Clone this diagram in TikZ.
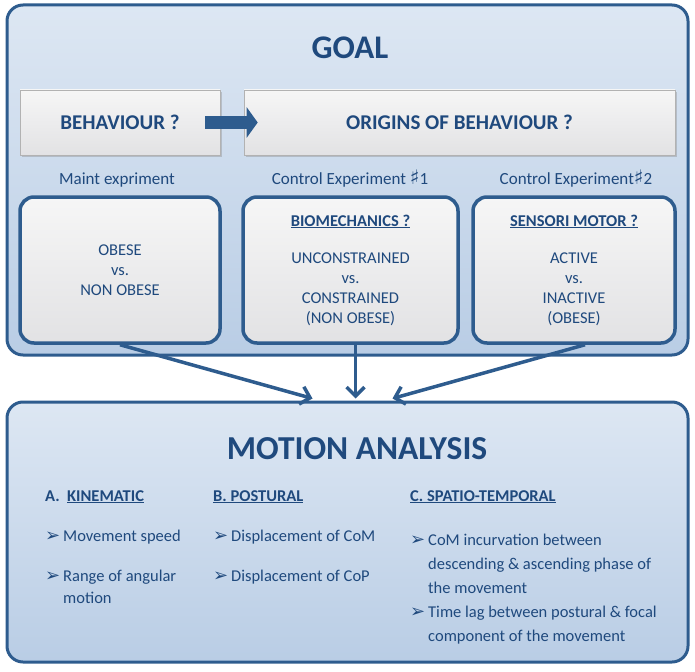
\documentclass[tikz,border=0pt]{standalone}
\usepackage{fontspec}
\setmainfont{Carlito}
\newfontfamily\symf{DejaVu Sans}
\usetikzlibrary{arrows.meta,shadows}

\definecolor{txtblue}{RGB}{31,73,125}
\definecolor{lineblue}{RGB}{46,92,142}
\definecolor{paneltop}{RGB}{221,231,243}
\definecolor{panelbot}{RGB}{185,205,229}
\definecolor{boxtop}{RGB}{246,246,246}
\definecolor{boxbot}{RGB}{226,226,228}

\newcommand{\bul}{\makebox[18pt][l]{\symf\fontsize{18}{18}\selectfont ➢}}
\newcommand{\ind}{\hspace*{18pt}}
\newcommand{\shp}{{\symf\fontsize{20}{20}\selectfont ♯}}

\begin{document}
\begin{tikzpicture}[x=1pt, y=-1pt, text=txtblue,
    panel/.style={draw=lineblue, line width=3pt, rounded corners=16pt,
      top color=paneltop, bottom color=panelbot, inner sep=0pt},
    header/.style={draw=gray!60, line width=0.6pt, top color=boxtop, bottom color=boxbot,
      drop shadow={opacity=0.35, shadow xshift=2pt, shadow yshift=-2pt},
      font=\fontsize{21}{25}\selectfont\bfseries, inner sep=0pt},
    expbox/.style={draw=lineblue, line width=3.5pt, rounded corners=14pt,
      top color=boxtop, bottom color=boxbot, align=center, inner sep=0pt,
      minimum height=146pt, font=\fontsize{16.5}{20}\selectfont},
    exptag/.style={font=\fontsize{17}{20}\selectfont},
    column/.style={anchor=north west, align=left, inner sep=0pt, font=\fontsize{16.5}{22}\selectfont},
    bigarrow/.style={draw=lineblue, line width=13pt, -{Triangle[length=11pt, width=30pt]}},
    flow/.style={draw=lineblue, line width=3.5pt, -{Straight Barb[length=9pt, width=18pt]}}]

  \useasboundingbox (0,0) rectangle (695,671);

  % goal panel
  \node[panel, minimum width=681pt, minimum height=350pt] (goal) at (347.5,180) {};
  \node[font=\fontsize{33}{36}\selectfont\bfseries] (goalt) at (350,48) {GOAL};

  \node[header, minimum width=200pt, minimum height=65pt] (beh) at (120,122.5) {BEHAVIOUR ?};
  \node[header, minimum width=431pt, minimum height=65pt] (orig) at (459.5,122.5) {ORIGINS OF BEHAVIOUR ?};
  \draw[bigarrow] ([xshift=-15pt]beh.east) -- ([xshift=14pt]orig.west);

  \node[exptag] (tmain) at (117,180) {Maint expriment};
  \node[exptag] (tctl1) at (350,179) {Control Experiment \shp1};
  \node[exptag] (tctl2) at (576,179) {Control Experiment\shp2};

  \node[expbox, minimum width=200pt] (obese) at (120,270)
    {OBESE\\vs.\\NON OBESE};
  \node[expbox, minimum width=215pt] (biomec) at (350.5,270)
    {\textbf{\underline{BIOMECHANICS ?}}\\[17pt]UNCONSTRAINED\\vs.\\CONSTRAINED\\(NON OBESE)};
  \node[expbox, minimum width=202pt] (sensori) at (574,270)
    {\textbf{\underline{SENSORI MOTOR ?}}\\[17pt]ACTIVE\\vs.\\INACTIVE\\(OBESE)};

  % analysis panel
  \node[panel, minimum width=681pt, minimum height=260pt] (ana) at (347.5,532) {};
  \node[font=\fontsize{33.5}{38}\selectfont\bfseries] (anat) at (357,449) {MOTION ANALYSIS};

  \node[column] (kin) at (45,490)
    {\textbf{A.\ \ \underline{KINEMATIC}}\\[18pt]
     \bul Movement speed\\[18pt]
     \bul Range of angular\\
     \ind motion};
  \node[column] (post) at (213,490)
    {\textbf{\underline{B. POSTURAL}}\\[18pt]
     \bul Displacement of CoM\\[18pt]
     \bul Displacement of CoP};
  \node[column, font=\fontsize{16.5}{24}\selectfont] (spat) at (410,490)
    {\textbf{\underline{C. SPATIO-TEMPORAL}}\\[20pt]
     \bul CoM incurvation between\\
     \ind descending \& ascending phase of\\
     \ind the movement\\
     \bul Time lag between postural \& focal\\
     \ind component of the movement};

  \draw[flow] (obese.south) -- ([xshift=-35pt, yshift=2pt]ana.north);
  \draw[flow] ([xshift=5pt]biomec.south) -- ([xshift=8pt, yshift=2pt]ana.north);
  \draw[flow] ([xshift=11pt]sensori.south) -- ([xshift=45pt, yshift=2pt]ana.north);
\end{tikzpicture}
\end{document}
